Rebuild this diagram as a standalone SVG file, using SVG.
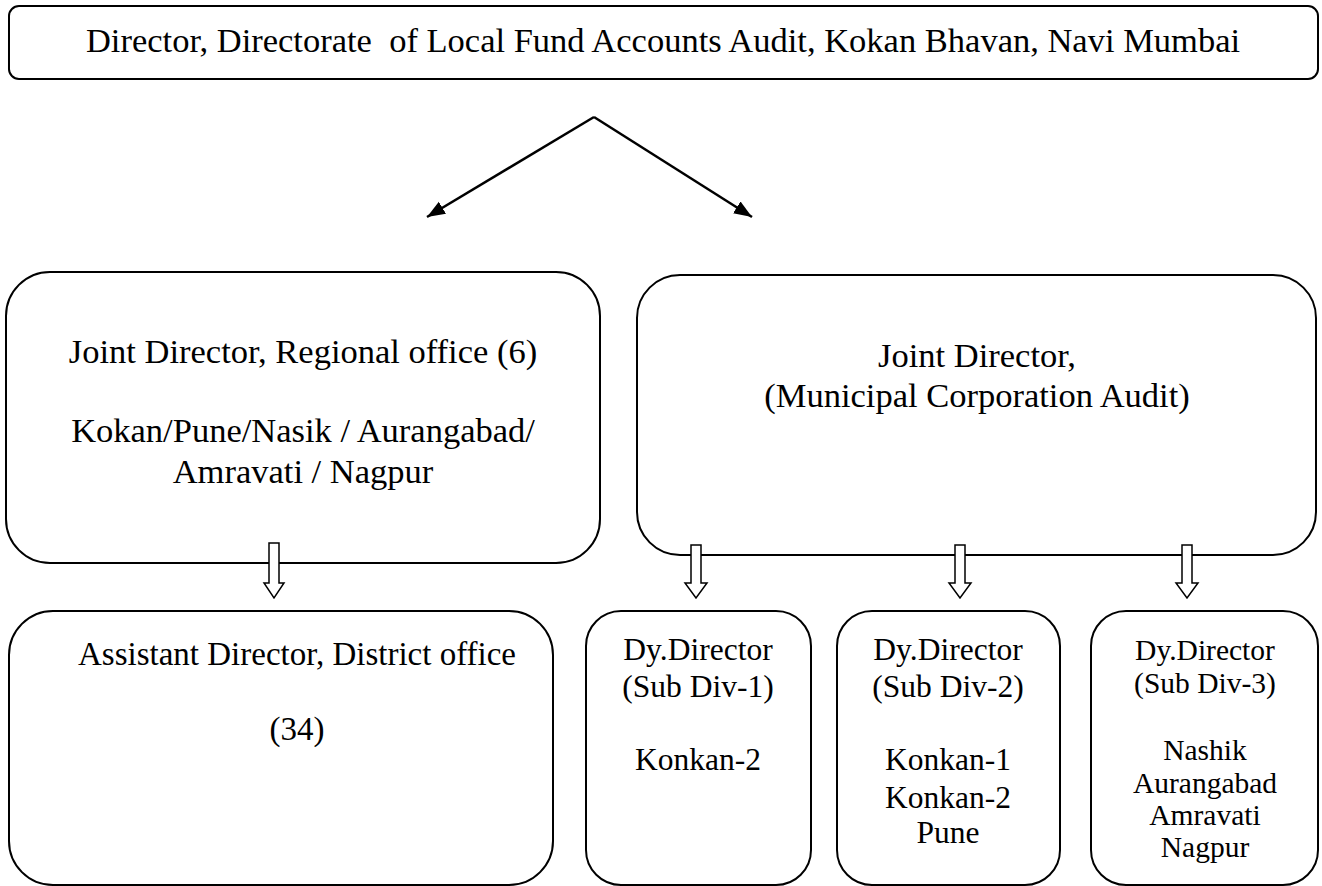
<svg xmlns="http://www.w3.org/2000/svg" width="1322" height="886" viewBox="0 0 1322 886">
<style>
.box{fill:#fff;stroke:#000;stroke-width:2}
.t{font-family:"Liberation Serif",Tinos,"Times New Roman","DejaVu Serif",serif;fill:#000;text-anchor:middle}
.hol{fill:#fff;stroke:#000;stroke-width:1.5}
.con{stroke:#000;stroke-width:2.5;fill:none}
</style>
<defs>
<marker id="ah" markerUnits="userSpaceOnUse" markerWidth="20" markerHeight="16" refX="18" refY="7" orient="auto">
<path d="M0,0 L18,7 L0,14 Z" fill="#000"/>
</marker>
</defs>
<g id="director">
<rect class="box" x="9" y="6" width="1309" height="73" rx="10"/>
<text class="t" x="663" y="52" font-size="34.5" font-family="Liberation Serif, serif" xml:space="preserve">Director, Directorate  of Local Fund Accounts Audit, Kokan Bhavan, Navi Mumbai</text>
</g>
<g id="jd-regional">
<rect class="box" x="6" y="272" width="594" height="291" rx="44"/>
<text class="t" x="303" y="363" font-size="34.5">Joint Director, Regional office (6)</text>
<text class="t" x="303" y="442" font-size="34.5">Kokan/Pune/Nasik / Aurangabad/</text>
<text class="t" x="303" y="483" font-size="34.5">Amravati / Nagpur</text>
</g>
<g id="jd-municipal">
<rect class="box" x="637" y="275" width="679" height="280" rx="43"/>
<text class="t" x="977" y="367" font-size="34.5">Joint Director,</text>
<text class="t" x="977" y="407" font-size="34.5">(Municipal Corporation Audit)</text>
</g>
<g id="ad-district">
<rect class="box" x="9" y="611" width="544" height="274" rx="44"/>
<text class="t" x="297" y="665" font-size="33">Assistant Director, District office</text>
<text class="t" x="297" y="740" font-size="33">(34)</text>
</g>
<g id="dy1">
<rect class="box" x="586" y="611" width="225" height="274" rx="35"/>
<text class="t" x="698" y="660" font-size="31.5">Dy.Director</text>
<text class="t" x="698" y="697" font-size="31.5">(Sub Div-1)</text>
<text class="t" x="698" y="770" font-size="31.5">Konkan-2</text>
</g>
<g id="dy2">
<rect class="box" x="837" y="611" width="223" height="274" rx="35"/>
<text class="t" x="948" y="660" font-size="31.5">Dy.Director</text>
<text class="t" x="948" y="697" font-size="31.5">(Sub Div-2)</text>
<text class="t" x="948" y="770" font-size="31.5">Konkan-1</text>
<text class="t" x="948" y="808" font-size="31.5">Konkan-2</text>
<text class="t" x="948" y="843" font-size="31.5">Pune</text>
</g>
<g id="dy3">
<rect class="box" x="1091" y="611" width="227" height="274" rx="35"/>
<text class="t" x="1205" y="660" font-size="29.5">Dy.Director</text>
<text class="t" x="1205" y="693" font-size="29.5">(Sub Div-3)</text>
<text class="t" x="1205" y="760" font-size="29.5">Nashik</text>
<text class="t" x="1205" y="793" font-size="29.5">Aurangabad</text>
<text class="t" x="1205" y="825" font-size="29.5">Amravati</text>
<text class="t" x="1205" y="857" font-size="29.5">Nagpur</text>
</g>
<g id="connectors">
<path class="con" d="M594,117 L427,217" marker-end="url(#ah)"/>
<path class="con" d="M594,117 L752,217" marker-end="url(#ah)"/>
<path class="hol" d="M269,543 L279,543 L279,583 L284,583 L274,598 L264,583 L269,583 Z"/>
<path class="hol" d="M691,545 L701,545 L701,583 L707,583 L696,598 L685,583 L691,583 Z"/>
<path class="hol" d="M955,545 L965,545 L965,583 L971,583 L960,598 L949,583 L955,583 Z"/>
<path class="hol" d="M1182,545 L1192,545 L1192,583 L1198,583 L1187,598 L1176,583 L1182,583 Z"/>
</g>
</svg>
